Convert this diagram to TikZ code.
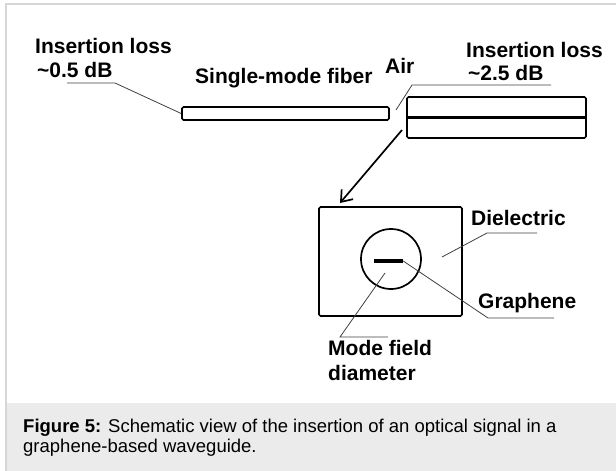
\documentclass[tikz,border=0pt]{standalone}
\usepackage{fontspec}
\setmainfont{Liberation Sans}
\usetikzlibrary{arrows.meta}
\begin{document}
\begin{tikzpicture}[x=1pt,y=-1pt]

% frame and caption band
\definecolor{rim}{HTML}{D6D6D6}
\definecolor{band}{HTML}{EBEBEB}
\useasboundingbox (0,0) rectangle (616,471);
\fill[band] (6,403) rectangle (616,471);
\draw[rim,line width=1.2pt] (616,4) -- (6,4) -- (6,471);

% node style definition
\tikzstyle{part} = [
	draw, line width=1.7pt, rectangle, rounded corners=1.5pt,
	inner sep=0pt ];
\tikzstyle{lbl} = [font=\bfseries\fontsize{21}{23}\selectfont,
	inner sep=0pt, anchor=base west];
\tikzstyle{lead} = [draw=black!75, line width=0.8pt];

% fiber and waveguide
\node[part, minimum width=207pt, minimum height=13pt] (fiber) at (285.5,113.5) {};
\node[part, minimum width=179pt, minimum height=41pt] (guide) at (496.5,117.5) {};
\draw[line width=2.4pt] (guide.west) -- (guide.east);

% cross section
\node[part, minimum width=143pt, minimum height=109pt] (diel) at (390.5,261.5) {};
\node[part, circle, minimum size=60pt] (mode) at (391,259) {};
\node[fill, rectangle, minimum width=29pt, minimum height=3.5pt, inner sep=0pt] (gra) at (388.5,261) {};

% labels
\node[lbl] (il1) at (35,53) {Insertion loss};
\node[lbl] (db1) at (37,77) {\textasciitilde0.5 dB};
\node[lbl] (smf) at (195,83) {Single-mode fiber};
\node[lbl] (air) at (385,73) {Air};
\node[lbl] (il2) at (466,57) {Insertion loss};
\node[lbl] (db2) at (468,80) {\textasciitilde2.5 dB};
\node[lbl] (die) at (471,225) {Dielectric};
\node[lbl] (gph) at (478,308) {Graphene};
\node[lbl] (mfd) at (328,355) {Mode field};
\node[lbl] (dia) at (328,380) {diameter};

% leader lines
\coordinate (k1) at (115,83);
\coordinate (k2) at (67,83);
\draw[lead] (fiber.west) -- (k1) -- (k2);

\coordinate (a0) at (396,110);
\coordinate (a1) at (412,85);
\coordinate (a2) at (551,85);
\draw[lead] (a0) -- (a1) -- (a2);

\coordinate (d0) at (442,257);
\coordinate (d1) at (487,233);
\coordinate (d2) at (537,233);
\draw[lead] (d0) -- (d1) -- (d2);

\coordinate (g1) at (488,318);
\coordinate (g2) at (554,318);
\draw[lead] (gra.east) -- (g1) -- (g2);

\coordinate (m0) at (385,273);
\coordinate (m1) at (340,337);
\coordinate (m2) at (388,337);
\draw[lead] (m0) -- (m1) -- (m2);

% coupling arrow
\coordinate (s) at (402,130);
\coordinate (t) at (340,203);
\draw[line width=1.7pt, -{Straight Barb[length=10pt,width=15pt]}] (s) -- (t);

% caption
\node[inner sep=0pt, anchor=base west, align=left,
	font=\fontsize{18.5}{20}\selectfont] (cap) at (23,452)
	{\textbf{Figure 5:} Schematic view of the insertion of an optical signal in a\\
	graphene-based waveguide.};

\end{tikzpicture}
\end{document}
